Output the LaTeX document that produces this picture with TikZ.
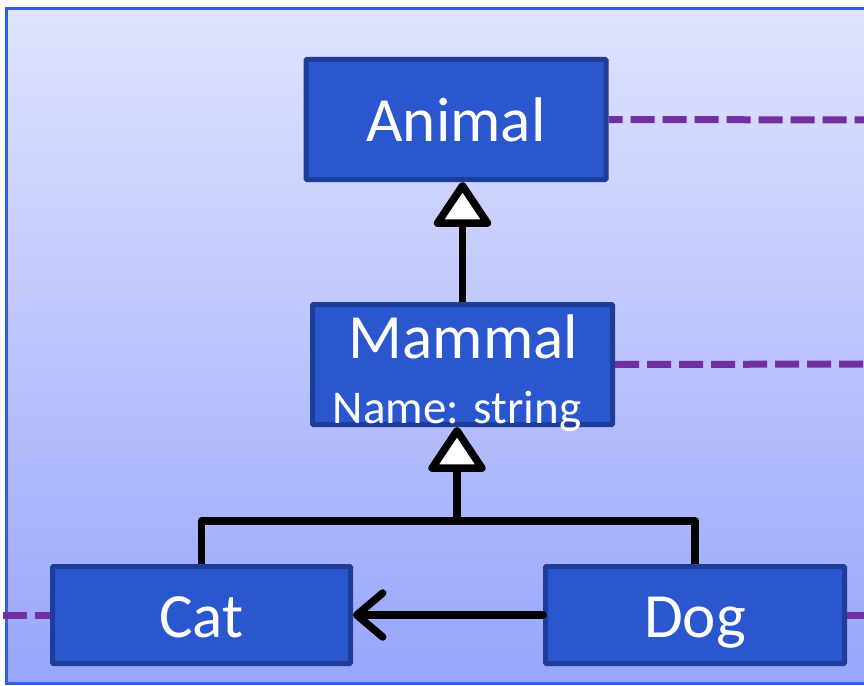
\documentclass[tikz,border=0pt]{standalone}
\usepackage{fontspec}
\setmainfont{Carlito}
\usepackage{xcolor}
\usetikzlibrary{arrows.meta}
\definecolor{boxfill}{HTML}{2B57CE}
\definecolor{boxline}{HTML}{1D3D98}
\definecolor{bgtop}{HTML}{DFE3FE}
\definecolor{bgbottom}{HTML}{98A6FB}
\definecolor{frameblue}{HTML}{2F5FE0}
\definecolor{deppurple}{HTML}{7030A0}

\begin{document}
\begin{tikzpicture}[x=1pt, y=-1pt,
  classbox/.style={rectangle, draw=boxline, fill=boxfill, line width=5pt, rounded corners=1pt,
    minimum width=300pt, text=white, font=\fontsize{63}{70}\selectfont, text height=44pt, text depth=0pt},
  inherit/.style={line width=7.5pt, line join=round, -{Triangle[open, fill=white, length=48pt, width=62pt, round]}},
  assoc/.style={line width=7.5pt, line cap=round, -{Straight Barb[length=26pt, width=44pt, round]}},
  dep/.style={deppurple, line width=7pt, dash pattern=on 24pt off 8pt}]
\useasboundingbox (0,0) rectangle (864,685);
% Background
\shade[top color=bgtop, bottom color=bgbottom] (6,9) rectangle (880,683);
\draw[frameblue, line width=3pt] (880,9) -- (6,9) -- (6,683) -- (880,683);
% Classes
\node[classbox, minimum height=120pt] (animal) at (456,119.5) {Animal};
\node[classbox, minimum height=120pt, minimum width=300pt] (mammal) at (462.5,364.5) {};
\node[text=white, font=\fontsize{63}{70}\selectfont, anchor=base] (mammaltitle) at (463.5,358) {Mammal};
\node[text=white, font=\fontsize{47}{50}\selectfont, anchor=base] (mammalattr) at (457,423) {Name: string};
\node[classbox, minimum height=97pt, minimum width=298pt] (cat) at (201.5,615) {Cat};
\node[classbox, minimum height=97pt, minimum width=299pt] (dog) at (695,615) {Dog};
% Dependencies
\coordinate (animalend) at (880,120);
\coordinate (mammalend) at (880,364);
\coordinate (catend) at (3,615);
\coordinate (dogend) at (880,615);
\draw[dep, dash phase=10pt] (animal.east) -- (animalend);
\draw[dep] (mammal.east) -- (mammalend);
\draw[dep] (catend) -- (cat.west);
\draw[dep] (dog.east) -- (dogend);
% Inheritance
\coordinate (join) at (457,521);
\draw[inherit] (mammal.north) -- (mammal.north |- animal.south);
\draw[line width=7.5pt, line join=round] (cat.north) |- (join) -| (dog.north);
\draw[inherit] (join) -- (join |- mammal.south);
% Association
\draw[assoc] (dog.west) -- (cat.east);
\end{tikzpicture}
\end{document}
